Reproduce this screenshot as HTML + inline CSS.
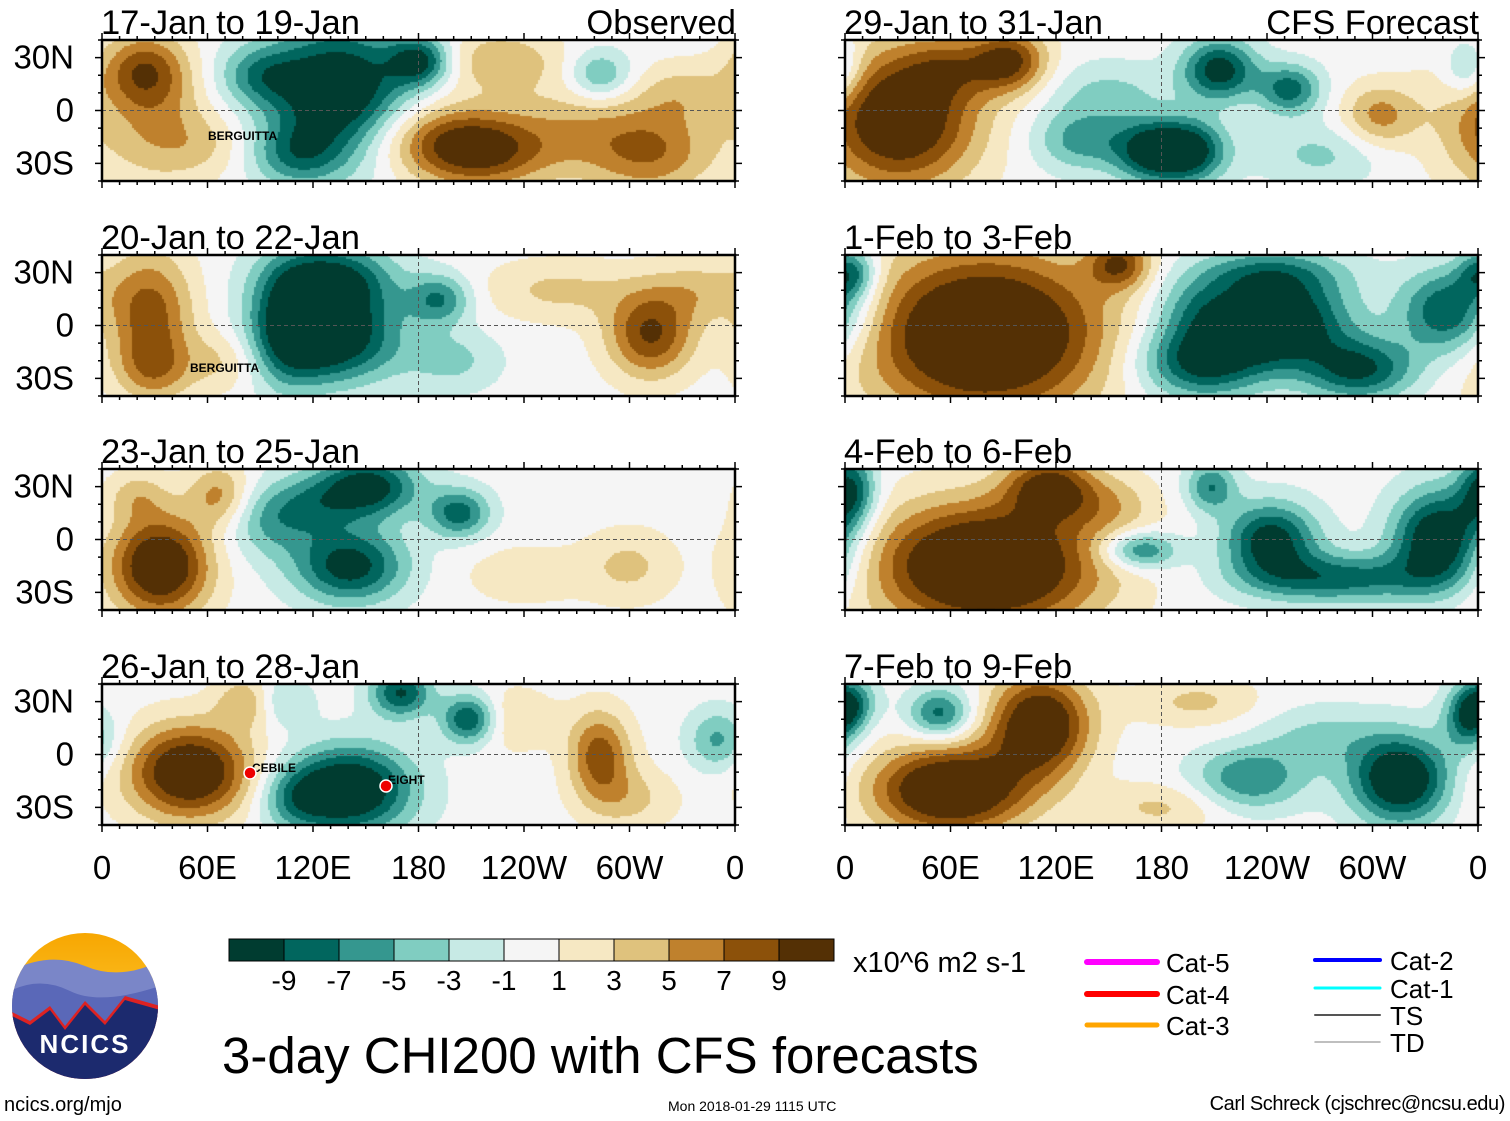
<!DOCTYPE html>
<html><head><meta charset="utf-8">
<style>
body{margin:0;background:#fff;width:1510px;height:1121px;position:relative;overflow:hidden;font-family:"Liberation Sans",sans-serif;}
.t{position:absolute;white-space:nowrap;color:#000;}
canvas{position:absolute;}
</style></head><body>
<svg id="ov" width="1510" height="1121" style="position:absolute;left:0;top:0"></svg>
<script>
const levels=[-9,-7,-5,-3,-1,1,3,5,7,9];
const colors=["#003c30","#01665e","#35978f","#80cdc1","#c7eae5","#f5f5f5","#f6e8c3","#dfc27d","#bf812d","#8c510a","#543005"];
const panelTitles=["17-Jan to 19-Jan","20-Jan to 22-Jan","23-Jan to 25-Jan","26-Jan to 28-Jan","29-Jan to 31-Jan","1-Feb to 3-Feb","4-Feb to 6-Feb","7-Feb to 9-Feb"];
const xTickLabels=["0","60E","120E","180","120W","60W","0"];
const xTickLons=[0,60,120,180,240,300,360];
const yTickLabels=["30N","0","30S"];
const yTickLats=[30,0,-30];
// Anomaly blobs per panel: [lon, lat, amplitude, sigmaLon, sigmaLat]
const blobs1=[[24,23,7,14,12],[30,-10,4,18,18],[135,10,-11,22,22],[181,28,-8,10,8],[90,20,-5,14,10],[110,-25,-5,15,10],[215,-23,8,22,12],[185,-15,4,25,12],[312,-23,6,20,14],[226,28,4,20,10],[283,20,-5,10,8],[330,10,3,15,10],[270,-10,3,20,15],[60,-20,2,15,10]];
const blobs2=[[27,7,7,14,20],[30,-25,4,12,10],[130,-8,-10,22,14],[130,25,-9,20,12],[105,0,-5,12,20],[192,15,-6,10,8],[312,-5,8,14,14],[260,20,3,25,10],[200,-20,-3,15,10],[340,20,3,15,10],[70,-20,3,12,10]];
const blobs3=[[33,-15,11,16,16],[67,25,5,10,10],[141,-15,-9,18,12],[152,30,-9,16,10],[203,15,-7,10,8],[95,10,-4,15,12],[300,-15,3,15,12],[20,25,3,10,8],[240,-20,2,20,10],[120,20,-4,15,10]];
const blobs4=[[50,-10,11,20,15],[141,-20,-11,20,14],[170,35,-8,10,8],[209,20,-9,9,8],[283,0,7,10,14],[351,8,-5,10,10],[100,30,-4,10,8],[84,30,5,10,8],[230,20,3,15,10],[300,-25,3,15,10],[110,-25,-4,12,10]];
const blobs5=[[31,-5,11,25,22],[94,28,8,12,10],[213,23,-9,12,10],[253,12,-7,10,8],[173,-23,-8,12,10],[196,-23,-9,12,10],[134,-17,-5,15,10],[304,-3,5,12,10],[355,23,-5,8,10],[270,-25,-3,20,10],[150,10,-3,20,10],[60,25,4,15,10]];
const blobs6=[[80,-5,13,38,26],[156,35,7,10,8],[247,2,-11,22,14],[202,-20,-9,20,12],[344,8,-9,16,14],[293,-25,-8,18,10],[3,30,-7,8,8],[240,30,-5,25,8],[200,10,-4,15,10]];
const blobs7=[[80,-15,13,36,20],[116,30,8,14,10],[3,28,-8,8,12],[242,0,-9,15,12],[338,0,-11,15,16],[168,-6,-7,12,6],[208,30,-6,8,8],[280,-22,-7,30,8],[150,20,3,15,10]];
const blobs8=[[60,-20,12,25,14],[111,17,11,16,16],[54,23,-7,10,8],[3,30,-6,8,8],[316,-14,-11,16,14],[230,-14,-6,18,10],[355,20,-7,8,10],[200,30,3,20,8],[180,-30,3,20,8],[270,10,-3,20,10]];
const allBlobs=[blobs1,blobs2,blobs3,blobs4,blobs5,blobs6,blobs7,blobs8];

const PW=633,PH=141,colX=[102,845],rowY=[40,255,469,684];
function lonToX(lon){return lon/360*PW;}
function latToY(lat){return (40-lat)/80*PH;}
function field(b,lon,lat){let v=0;for(const [bl,bt,a,sl0,st0] of b){const sl=sl0*1.25,st=st0*1.25;let d=Math.abs(lon-bl);if(d>180)d=360-d;v+=a*1.15*Math.exp(-(d*d)/(2*sl*sl)-((lat-bt)*(lat-bt))/(2*st*st));}return v;}
function colorFor(v){let i=0;while(i<levels.length&&v>=levels[i])i++;return colors[i];}
const svgNS="http://www.w3.org/2000/svg";
const ov=document.getElementById('ov');
function el(tag,attrs,parent){const e=document.createElementNS(svgNS,tag);for(const k in attrs)e.setAttribute(k,attrs[k]);(parent||ov).appendChild(e);return e;}

allBlobs.forEach((b,p)=>{
  const px=colX[Math.floor(p/4)],py=rowY[p%4];
  const c=document.createElement('canvas');c.width=PW;c.height=PH;c.style.left=px+'px';c.style.top=py+'px';
  
  
  document.body.insertBefore(c,ov);
  const ctx=c.getContext('2d');const s=2;
  for(let y=0;y<PH;y+=s)for(let x=0;x<PW;x+=s){const lon=(x+s/2)/PW*360,lat=40-(y+s/2)/PH*80;ctx.fillStyle=colorFor(field(b,lon,lat));ctx.fillRect(x,y,s,s);}
  const g=el('g',{transform:`translate(${px},${py})`});
  
  
  el('line',{x1:0,x2:PW,y1:latToY(0),y2:latToY(0),stroke:'#555','stroke-dasharray':'4,3','stroke-width':1},g);
  el('line',{x1:lonToX(180),x2:lonToX(180),y1:0,y2:PH,stroke:'#555','stroke-dasharray':'4,3','stroke-width':1},g);
  el('rect',{x:0,y:0,width:PW,height:PH,fill:'none',stroke:'#000','stroke-width':2.5},g);
  for(let lon=0;lon<=360;lon+=10){const L=lon%60===0?7:4;el('line',{x1:lonToX(lon),x2:lonToX(lon),y1:-L,y2:0,stroke:'#000','stroke-width':1.5},g);el('line',{x1:lonToX(lon),x2:lonToX(lon),y1:PH,y2:PH+L,stroke:'#000','stroke-width':1.5},g);}
  for(let lat=-40;lat<=40;lat+=10){const L=lat%30===0?7:4;el('line',{x1:0,x2:-L,y1:latToY(lat),y2:latToY(lat),stroke:'#000','stroke-width':1.5},g);el('line',{x1:PW,x2:PW+L,y1:latToY(lat),y2:latToY(lat),stroke:'#000','stroke-width':1.5},g);}
  const tt=el('text',{x:-1,y:-6,'font-size':34.5,'font-family':'Liberation Sans'},g);tt.textContent=panelTitles[p];
  
  if(p===0||p===4){const r=el('text',{x:PW+1,y:-6,'font-size':34.5,'text-anchor':'end','font-family':'Liberation Sans'},g);r.textContent=p===0?'Observed':'CFS Forecast';
    }
  if(p<4){yTickLabels.forEach((lab,i)=>{const t=el('text',{x:-28,y:latToY(yTickLats[i])+11,'font-size':33,'text-anchor':'end','font-family':'Liberation Sans'},g);t.textContent=lab;
    });}
  if(p%4===3){xTickLabels.forEach((lab,i)=>{const t=el('text',{x:lonToX(xTickLons[i]),y:PH+54,'font-size':33,'text-anchor':'middle','font-family':'Liberation Sans'},g);t.textContent=lab;
    });}
});
[[0,'BERGUITTA',208,140],[1,'BERGUITTA',190,372],[3,'CEBILE',252,772],[3,'EIGHT',388,784]].forEach(s=>{const t=el('text',{x:s[2],y:s[3],'font-size':12,'font-weight':'bold','font-family':'Liberation Sans'});t.textContent=s[1];
  });
[[250,773],[386,786]].forEach(c=>{const e=el('circle',{cx:c[0],cy:c[1],r:6,fill:'#e00',stroke:'#fff','stroke-width':1.5});});
const cb=el('g',{});
colors.forEach((c,i)=>{el('rect',{x:229+i*55,y:939,width:55,height:22,fill:c,stroke:'#000','stroke-width':1},cb);});
levels.forEach((l,i)=>{const t=el('text',{x:229+(i+1)*55,y:990,'font-size':28,'text-anchor':'middle','font-family':'Liberation Sans'},cb);t.textContent=String(l);});
const hl=[['#ff00ff','Cat-5',1087,962,6],['#ff0000','Cat-4',1087,994,6],['#ffa500','Cat-3',1087,1025,5],['#0000ff','Cat-2',1315,960,4],['#00ffff','Cat-1',1315,988,3],['#555','TS',1315,1015,2],['#aaa','TD',1315,1042,1.5]];
hl.forEach(h=>{const g=el('g',{});
  el('line',{x1:h[2],x2:h[2]+(h[2]>1200?65:70),y1:h[3],y2:h[3],stroke:h[0],'stroke-width':h[4],'stroke-linecap':'round'},g);
  const t=el('text',{x:h[2]+(h[2]>1200?75:79),y:h[3]+10,'font-size':26,'font-family':'Liberation Sans'},g);t.textContent=h[1];});
</script>
<div class="t" style="left:853px;top:947px;font-size:29px">x10^6 m2 s-1</div>
<div class="t" style="left:222px;top:1026px;font-size:51px">3-day CHI200 with CFS forecasts</div>
<div class="t" style="left:4px;top:1094px;font-size:20px">ncics.org/mjo</div>
<div class="t" style="left:668px;top:1098px;font-size:14px">Mon 2018-01-29 1115 UTC</div>
<div class="t" style="right:5px;top:1093px;font-size:20px;letter-spacing:-0.4px">Carl Schreck (cjschrec@ncsu.edu)</div>
<svg style="position:absolute;left:10px;top:931px" width="150" height="150">
<defs><clipPath id="cc"><circle cx="75" cy="75" r="73"/></clipPath><linearGradient id="sky" x1="0" y1="0" x2="0" y2="1"><stop offset="0" stop-color="#f7a600"/><stop offset="1" stop-color="#ffd84a"/></linearGradient></defs>
<g clip-path="url(#cc)"><rect width="150" height="150" fill="url(#sky)"/>
<path d="M0 40 Q40 20 75 35 T150 30 V150 H0Z" fill="#7a86c8"/>
<path d="M0 60 Q30 45 60 60 T150 55 V150 H0Z" fill="#5a68b8"/>
<path d="M0 80 L20 90 L40 75 L55 95 L75 70 L95 90 L115 65 L150 75 V150 H0Z" fill="#d22" />
<path d="M0 84 L20 94 L40 79 L55 99 L75 74 L95 94 L115 69 L150 79 V150 H0Z" fill="#1c2a6e"/></g>
<text x="75" y="122" font-size="26" font-weight="bold" fill="#fff" text-anchor="middle" font-family="Liberation Sans" letter-spacing="2">NCICS</text>
</svg>
</body></html>
